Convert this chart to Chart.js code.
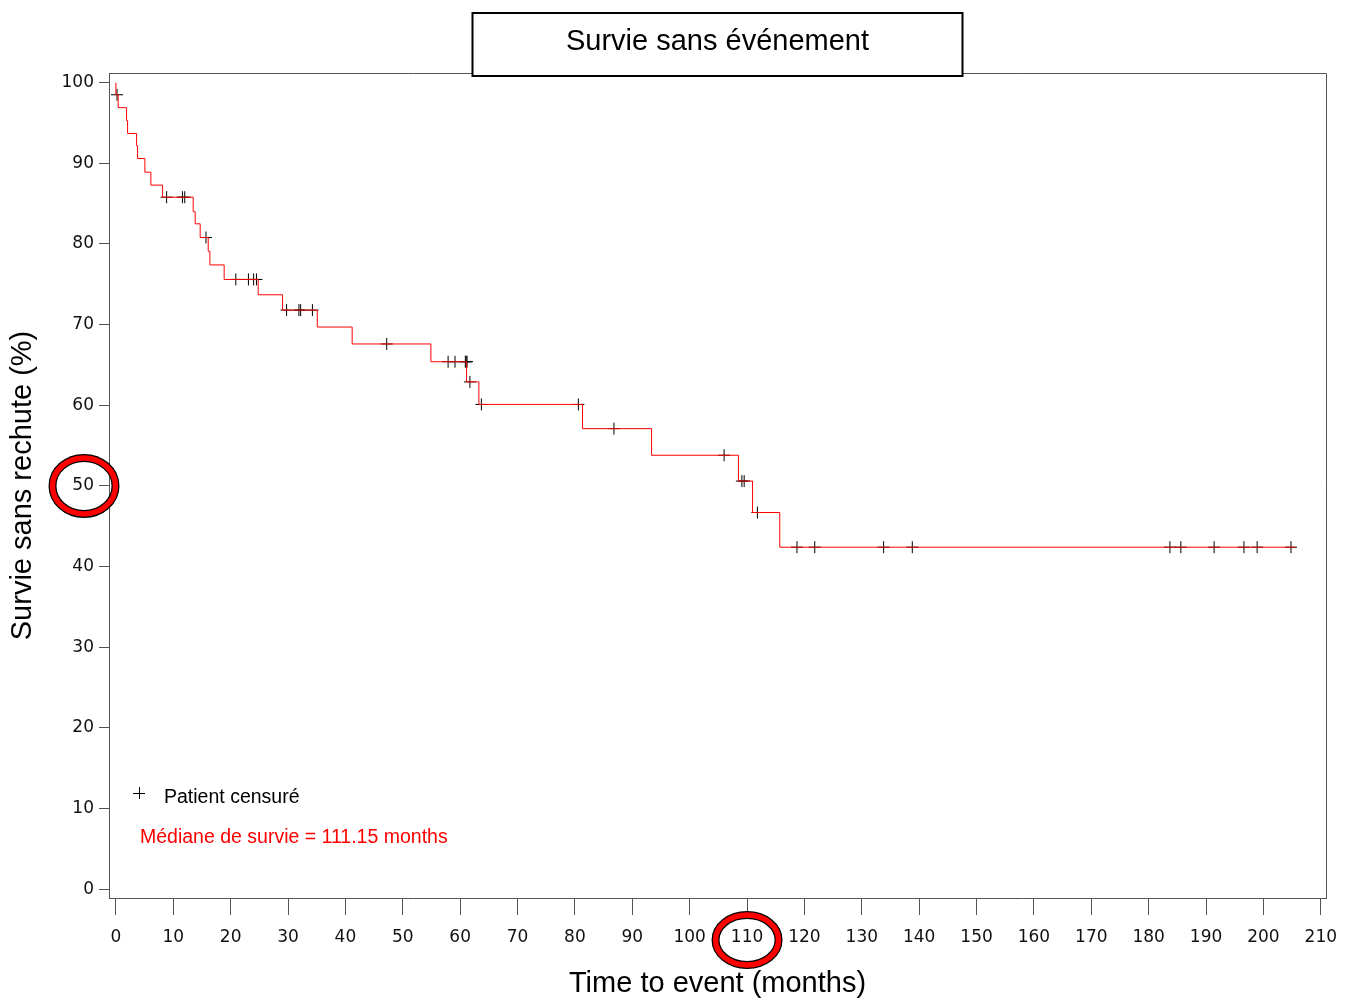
<!DOCTYPE html>
<html>
<head>
<meta charset="utf-8">
<script src="https://cdn.jsdelivr.net/npm/chart.js@4"></script>
<style>
  body { margin: 0; background: #fff; }
  #km { display: block; }
</style>
</head>
<body>
<canvas id="km" width="1354" height="998"></canvas>
<script>
// Kaplan-Meier steps: time of each drop (months) and survival after it (%)
const eventTimes = [0, 0, 0.4, 1.86, 2.04, 3.61, 3.78, 5.05, 6.1, 8.14, 13.47, 13.82, 14.69, 16.09, 16.38,
	18.87, 24.8, 29.05, 35.1, 41.18, 54.9, 61.12, 63.26, 81.33, 93.36, 108.5, 110.96, 115.7, 205.5];
const survival = [100, 98.5, 96.9, 95.3, 93.7, 92.2, 90.6, 88.9, 87.3, 85.8, 84.0, 82.5, 80.8, 79.1, 77.4,
	75.6, 73.7, 71.8, 69.7, 67.6, 65.4, 62.9, 60.1, 57.1, 53.8, 50.6, 46.7, 42.4, 42.4];

// censored patients
const censorTimes = [0.2, 8.84, 11.6, 12.0, 15.7, 20.9, 23.1, 24.0, 24.5, 29.75, 31.9, 32.2, 34.25,
	47.2, 57.9, 59.1, 60.9, 61.05, 61.2, 61.7, 63.7, 80.6, 86.8, 106.0, 109.1, 109.5, 111.8,
	118.7, 121.8, 133.8, 138.8, 183.7, 185.6, 191.4, 196.6, 198.9, 204.8];
const censorValues = [98.5, 85.8, 85.8, 85.8, 80.8, 75.6, 75.6, 75.6, 75.6, 71.8, 71.8, 71.8, 71.8,
	67.6, 65.4, 65.4, 65.4, 65.4, 65.4, 62.9, 60.1, 60.1, 57.1, 53.8, 50.6, 50.6, 46.7,
	42.4, 42.4, 42.4, 42.4, 42.4, 42.4, 42.4, 42.4, 42.4, 42.4];

const xTicks = [0, 10, 20, 30, 40, 50, 60, 70, 80, 90, 100, 110, 120, 130, 140, 150, 160, 170, 180, 190, 200, 210];
const yTicks = [0, 10, 20, 30, 40, 50, 60, 70, 80, 90, 100];

const chartTitle = "Survie sans événement";
const legendText = "Patient censuré";
const medianText = "Médiane de survie = 111.15 months";
const markedX = 110;
const markedY = 50;

const frameColor = "#555";
const tickFont = { family: "DejaVu Sans", size: 17 };
const sans = "'Liberation Sans', Arial, sans-serif";

const decorations = {
	id: "decorations",
	afterDraw(chart) {
		const ctx = chart.ctx;
		const a = chart.chartArea;
		const xs = chart.scales.x;
		const ys = chart.scales.y;
		ctx.save();

		// top and right frame lines
		ctx.strokeStyle = frameColor;
		ctx.lineWidth = 1;
		ctx.beginPath();
		ctx.moveTo(a.left, a.top + 0.5);
		ctx.lineTo(a.right + 0.5, a.top + 0.5);
		ctx.lineTo(a.right + 0.5, a.bottom);
		ctx.stroke();

		// title box
		const cx = (a.left + a.right) / 2;
		ctx.fillStyle = "#fff";
		ctx.fillRect(cx - 245, 13, 490, 63);
		ctx.strokeStyle = "#000";
		ctx.lineWidth = 2;
		ctx.strokeRect(cx - 245, 13, 490, 63);
		ctx.fillStyle = "#000";
		ctx.font = "29px " + sans;
		ctx.textAlign = "center";
		ctx.textBaseline = "middle";
		ctx.fillText(chartTitle, cx, 42);

		// legend
		ctx.strokeStyle = "#000";
		ctx.lineWidth = 1;
		ctx.beginPath();
		ctx.moveTo(a.left + 24, 793.5);
		ctx.lineTo(a.left + 36, 793.5);
		ctx.moveTo(a.left + 30.5, 787);
		ctx.lineTo(a.left + 30.5, 799);
		ctx.stroke();
		ctx.textAlign = "left";
		ctx.font = "19.5px " + sans;
		ctx.fillText(legendText, a.left + 55, 798);
		ctx.fillStyle = "#f00";
		ctx.font = "19.5px " + sans;
		ctx.fillText(medianText, a.left + 31, 838);

		// red rings round the 50 and 110 tick labels
		const ring = (x, y, rx, ry) => {
			ctx.beginPath();
			ctx.ellipse(x, y, rx, ry, 0, 0, Math.PI * 2);
			ctx.strokeStyle = "#000";
			ctx.lineWidth = 8;
			ctx.stroke();
			ctx.strokeStyle = "#f00";
			ctx.lineWidth = 5.5;
			ctx.stroke();
		};
		ring(a.left - 25, ys.getPixelForValue(markedY), 31.5, 28);
		ring(xs.getPixelForValue(markedX), a.bottom + 42, 31.5, 25);

		ctx.restore();
	},
};

new Chart(document.getElementById("km"), {
	type: "line",
	data: {
		datasets: [
			{
				label: "Survie",
				data: eventTimes.map((t, i) => ({ x: t, y: survival[i] })),
				stepped: true,
				borderColor: "#f00",
				borderWidth: 1,
				pointRadius: 0,
				fill: false,
			},
			{
				label: legendText,
				data: censorTimes.map((t, i) => ({ x: t, y: censorValues[i] })),
				showLine: false,
				pointStyle: "cross",
				pointRadius: 6,
				borderColor: "#000",
				borderWidth: 1,
			},
		],
	},
	options: {
		responsive: false,
		animation: false,
		layout: { padding: { left: 0, right: 28, top: 73, bottom: 0 } },
		plugins: {
			legend: { display: false },
			tooltip: { enabled: false },
			title: { display: false },
		},
		scales: {
			x: {
				type: "linear",
				min: -1.2,
				max: 210.9,
				afterBuildTicks: (s) => { s.ticks = xTicks.map((v) => ({ value: v })); },
				afterFit: (s) => { s.height = 100; },
				grid: { drawOnChartArea: false, drawTicks: true, tickLength: 17, color: frameColor },
				border: { display: true, color: frameColor, width: 1 },
				ticks: { font: tickFont, color: "#111", padding: 12, maxRotation: 0, autoSkip: false },
				title: {
					display: true,
					text: "Time to event (months)",
					font: { family: sans, size: 29, lineHeight: 1.0 },
					color: "#000",
					padding: { top: 0, bottom: 0 },
				},
			},
			y: {
				type: "linear",
				min: -1.1,
				max: 101.2,
				afterBuildTicks: (s) => { s.ticks = yTicks.map((v) => ({ value: v })); },
				afterFit: (s) => { s.width = 109; },
				grid: { drawOnChartArea: false, drawTicks: true, tickLength: 10, color: frameColor },
				border: { display: true, color: frameColor, width: 1 },
				ticks: { font: tickFont, color: "#111", padding: 5, autoSkip: false },
				title: {
					display: true,
					text: "Survie sans rechute (%)",
					font: { family: sans, size: 29, lineHeight: 1.0 },
					color: "#000",
					padding: { top: 8, bottom: 0 },
				},
			},
		},
	},
	plugins: [decorations],
});
</script>
</body>
</html>
